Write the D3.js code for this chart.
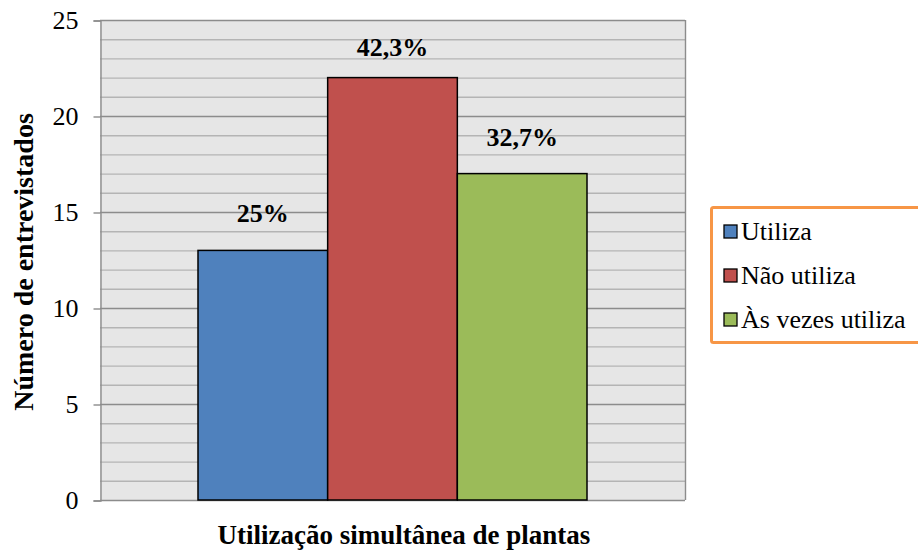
<!DOCTYPE html>
<html>
<head>
<meta charset="utf-8">
<script src="https://cdn.jsdelivr.net/npm/d3@7"></script>
</head>
<body style="margin:0;background:#fff">
<svg id="chart" width="918" height="552"></svg>
<script>
// Respostas sobre a utilização simultânea de plantas
const categories = ["Utiliza", "Não utiliza", "Às vezes utiliza"];
const values = [13, 22, 17];
const percentLabels = ["25%", "42,3%", "32,7%"];
const colors = ["#4f81bd", "#c0504d", "#9bbb59"];
const yTicks = [0, 5, 10, 15, 20, 25];

const FONT = "'Liberation Serif'";
const FS = "26px";

const svg = d3.select("#chart");
const plot = { left: 100, top: 20, right: 685, bottom: 500 };

const y = d3.scaleLinear().domain([0, 25]).range([plot.bottom, plot.top]);
const groupWidth = 389;
const groupStart = (plot.left + plot.right) / 2 - groupWidth / 2;
const x = d3.scaleBand().domain(categories)
  .range([groupStart, groupStart + groupWidth]).padding(0);

// plot background
svg.append("rect")
  .attr("x", plot.left).attr("y", plot.top)
  .attr("width", plot.right - plot.left).attr("height", plot.bottom - plot.top)
  .attr("fill", "#e6e6e6");

// minor gridlines every unit
svg.append("g").selectAll("line")
  .data(d3.range(1, 25).filter(v => v % 5 !== 0))
  .join("line")
  .attr("x1", plot.left).attr("x2", plot.right)
  .attr("y1", d => y(d) + 0.5).attr("y2", d => y(d) + 0.5)
  .attr("stroke", "#b4b4b4").attr("stroke-width", 1.4);

// major gridlines
svg.append("g").selectAll("line")
  .data(yTicks.filter(v => v > 0))
  .join("line")
  .attr("x1", plot.left).attr("x2", plot.right)
  .attr("y1", d => y(d) + 0.5).attr("y2", d => y(d) + 0.5)
  .attr("stroke", "#8c8c8c").attr("stroke-width", 1.4);

// right border of plot
svg.append("line")
  .attr("x1", plot.right + 0.5).attr("x2", plot.right + 0.5)
  .attr("y1", plot.top).attr("y2", plot.bottom)
  .attr("stroke", "#8c8c8c").attr("stroke-width", 1.4);

// y axis
const yAxis = d3.axisLeft(y).tickValues(yTicks).tickSize(7).tickPadding(15)
  .tickFormat(d3.format("d"));
const gy = svg.append("g").attr("transform", `translate(${plot.left + 0.5},0.5)`).call(yAxis);
gy.attr("font-family", null).attr("font-size", null);
gy.select(".domain").attr("stroke", "#8c8c8c").attr("stroke-width", 1.4);
gy.selectAll(".tick line").attr("stroke", "#8c8c8c").attr("stroke-width", 1.4);
gy.selectAll(".tick text")
  .style("font-family", FONT).style("font-size", FS)
  .attr("fill", "#000").attr("dy", "0.3em");

// x axis baseline
svg.append("line")
  .attr("x1", plot.left).attr("x2", plot.right)
  .attr("y1", plot.bottom + 0.5).attr("y2", plot.bottom + 0.5)
  .attr("stroke", "#8c8c8c").attr("stroke-width", 1.4);

// bars
svg.append("g").selectAll("rect")
  .data(categories)
  .join("rect")
  .attr("x", d => x(d))
  .attr("y", (d, i) => y(values[i]))
  .attr("width", x.bandwidth())
  .attr("height", (d, i) => y(0) - y(values[i]))
  .attr("fill", (d, i) => colors[i])
  .attr("stroke", "#000").attr("stroke-width", 1.5);

// value labels, kept inside the plot area
svg.append("g").selectAll("text")
  .data(categories)
  .join("text")
  .attr("x", d => x(d) + x.bandwidth() / 2)
  .attr("y", (d, i) => Math.max(y(values[i]) - 28, plot.top + 36))
  .attr("text-anchor", "middle")
  .style("font-family", FONT).style("font-size", FS).style("font-weight", "bold")
  .text((d, i) => percentLabels[i]);

// axis titles
svg.append("text")
  .attr("transform", "translate(33,262) rotate(-90)")
  .attr("text-anchor", "middle")
  .style("font-family", FONT).style("font-size", "28px").style("font-weight", "bold")
  .text("Número de entrevistados");

svg.append("text")
  .attr("x", 404).attr("y", 544)
  .attr("text-anchor", "middle")
  .style("font-family", FONT).style("font-size", "27px").style("font-weight", "bold")
  .text("Utilização simultânea de plantas");

// legend
const legend = svg.append("g");
legend.append("rect")
  .attr("x", 711.5).attr("y", 207.5)
  .attr("width", 230).attr("height", 135)
  .attr("rx", 2)
  .attr("fill", "#fff").attr("stroke", "#f79646").attr("stroke-width", 3);

const items = legend.selectAll("g.item")
  .data(categories)
  .join("g").attr("class", "item")
  .attr("transform", (d, i) => `translate(724,${240 + i * 44})`);
items.append("rect")
  .attr("x", 0).attr("y", -15).attr("width", 13).attr("height", 13)
  .attr("fill", (d, i) => colors[i]).attr("stroke", "#000").attr("stroke-width", 1.3);
items.append("text")
  .attr("x", 17).attr("y", 0)
  .style("font-family", FONT).style("font-size", FS)
  .text(d => d);
</script>
</body>
</html>
